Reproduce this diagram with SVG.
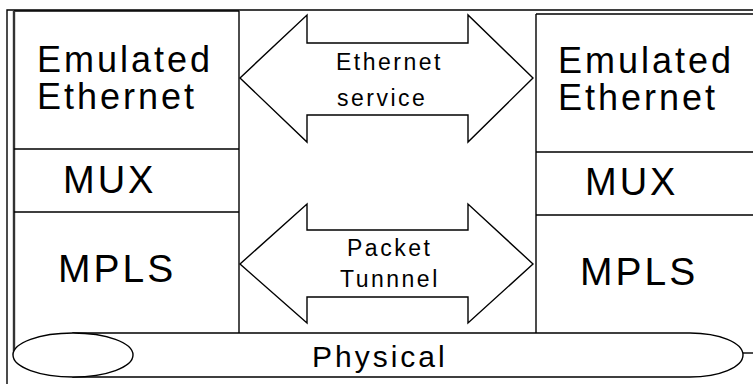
<svg xmlns="http://www.w3.org/2000/svg" width="753" height="384" viewBox="0 0 753 384">
<style>
.ln{stroke:#000;stroke-width:1.4;fill:none}
.sh{stroke:#000;stroke-width:1.4;fill:#fff}
.t{font-family:"Liberation Sans",Arial,sans-serif;fill:#000}
.big{font-size:36px;letter-spacing:3px}
.mid{font-size:23px;letter-spacing:2.5px}
</style>
<rect width="753" height="384" fill="#fff"/>
<g id="frame">
<path class="ln" d="M7,384 V10 H753"/>
<path class="ln" d="M743,353 H753"/>
</g>
<g id="left-stack">
<path class="ln" d="M239,11 V333"/>
<path class="ln" d="M14,11 H239"/>
<path d="M14,11 V355" stroke="#333" stroke-width="2.4" fill="none"/>
<path class="ln" d="M14,149 H239 M14,212 H239"/>
<text class="t big" x="37" y="72">Emulated</text>
<text class="t big" x="37" y="109">Ethernet</text>
<text class="t big" x="63" y="193" style="font-size:38px">MUX</text>
<text class="t big" x="58" y="282" style="font-size:39px">MPLS</text>
</g>
<g id="right-stack">
<path class="ln" d="M536,14 H753 M536,14 V334 M536,152 H753 M536,215 H753"/>
<text class="t big" x="558" y="73">Emulated</text>
<text class="t big" x="558" y="110">Ethernet</text>
<text class="t big" x="585" y="195" style="font-size:38px">MUX</text>
<text class="t big" x="580" y="285" style="font-size:39px">MPLS</text>
</g>
<g id="physical">
<path class="sh" d="M73,333 H690 A53,22 0 0 1 690,377 H73 Z"/>
<ellipse class="sh" cx="73" cy="355" rx="60" ry="22"/>
<text class="t" x="312" y="367" style="font-size:30px;letter-spacing:3px">Physical</text>
</g>
<g id="connectors">
<g id="ethernet-service">
<polygon class="sh" points="240,78 307,15 307,43 468,43 468,15 533,78 468,142 468,115 307,115 307,142"/>
<text class="t mid" x="336" y="70">Ethernet</text>
<text class="t mid" x="337" y="106">service</text>
</g>
<g id="packet-tunnel">
<polygon class="sh" points="240,264 307,204 307,230 468,230 468,204 533,264 468,323 468,297 307,297 307,323"/>
<text class="t mid" x="347" y="256">Packet</text>
<text class="t mid" x="340" y="287">Tunnnel</text>
</g>
</g>
</svg>
